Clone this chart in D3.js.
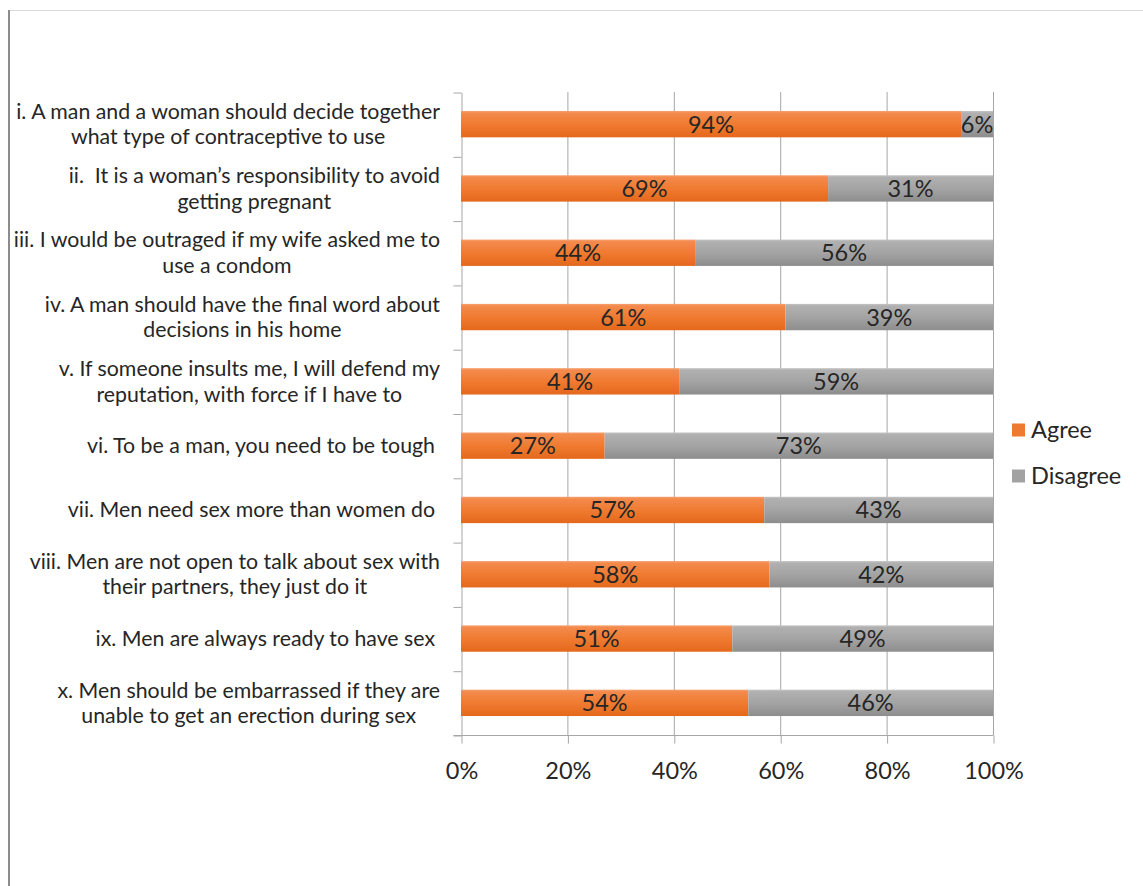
<!DOCTYPE html>
<html>
<head>
<meta charset="utf-8">
<script src="https://cdn.jsdelivr.net/npm/d3@7"></script>
<style>
  body { margin: 0; background: #fff; }
  text { font-family: Lato, "Open Sans", sans-serif; fill: #262626; }
</style>
</head>
<body>
<svg id="chart" width="1143" height="886"></svg>
<script>
// category labels, already split the way the picture wraps them
const labels = [
  ["i. A man and a woman should decide together", "what type of contraceptive to use"],
  ["ii.  It is a woman\u2019s responsibility to avoid", "getting pregnant"],
  ["iii. I would be outraged if my wife asked me to", "use a condom"],
  ["iv. A man should have the final word about", "decisions in his home"],
  ["v. If someone insults me, I will defend my", "reputation, with force if I have to"],
  ["vi. To be a man, you need to be tough"],
  ["vii. Men need sex more than women do"],
  ["viii. Men are not open to talk about sex with", "their partners, they just do it"],
  ["ix. Men are always ready to have sex"],
  ["x. Men should be embarrassed if they are", "unable to get an erection during sex"]
];
const agree    = [0.94, 0.69, 0.44, 0.61, 0.41, 0.27, 0.57, 0.58, 0.51, 0.54];
const disagree = [0.06, 0.31, 0.56, 0.39, 0.59, 0.73, 0.43, 0.42, 0.49, 0.46];
const seriesNames = ["Agree", "Disagree"];
const xTicks = [0, 0.2, 0.4, 0.6, 0.8, 1];

const svg = d3.select("#chart");
const fmt = d3.format(".0%");

// gradients, excel style
const defs = svg.append("defs");
function grad(id, stops) {
  let g = defs.append("linearGradient").attr("id", id)
    .attr("x1", 0).attr("y1", 0).attr("x2", 0).attr("y2", 1);
  stops.forEach(s => g.append("stop").attr("offset", s[0]).attr("stop-color", s[1]));
}
grad("gOrange", [[0, "#f6a271"], [0.08, "#f38a4c"], [0.5, "#f07b31"], [1, "#e4681c"]]);
grad("gGray", [[0, "#c4c4c4"], [0.08, "#b0b0b0"], [0.5, "#a4a4a4"], [1, "#8d8d8d"]]);
const fills = ["url(#gOrange)", "url(#gGray)"];
const legendFills = ["#ee7a2f", "#a2a2a2"];

// frame
svg.append("line").attr("x1", 9).attr("x2", 1143).attr("y1", 10.5).attr("y2", 10.5)
  .attr("stroke", "#d9d9d9");
svg.append("line").attr("x1", 9).attr("x2", 9).attr("y1", 10).attr("y2", 886)
  .attr("stroke", "#8c8c8c").attr("stroke-width", 2);

const x = d3.scaleLinear().domain([0, 1]).range([461, 993]);
const y = d3.scaleBand().domain(d3.range(labels.length)).range([92, 735])
  .paddingInner(0.59).paddingOuter(0.295);
const yEdge = d3.scaleLinear().domain([0, labels.length]).range([92, 735]);

// grid
svg.append("g").selectAll("line").data(xTicks.slice(1)).join("line")
  .attr("x1", d => x(d) + 0.5).attr("x2", d => x(d) + 0.5)
  .attr("y1", 92).attr("y2", 735)
  .attr("stroke", "#a6a6a6");

// axes
const xAxis = svg.append("g").attr("transform", "translate(0.5,735.5)")
  .call(d3.axisBottom(x).tickValues(xTicks).tickFormat(fmt).tickSize(8).tickSizeOuter(0));
xAxis.select(".domain").attr("d", "M" + (x(0) - 8) + ",0H" + x(1)).attr("stroke", "#a6a6a6");
xAxis.selectAll(".tick line").attr("stroke", "#a6a6a6");
xAxis.selectAll(".tick text").attr("y", 27).attr("font-size", 23.5)
  .attr("font-family", "Lato").attr("fill", "#262626");

const yAxis = svg.append("g").attr("transform", "translate(461.5,0.5)")
  .call(d3.axisLeft(yEdge).tickValues(d3.range(labels.length + 1)).tickFormat("").tickSize(8).tickSizeOuter(0));
yAxis.select(".domain").attr("stroke", "#a6a6a6");
yAxis.selectAll(".tick line").attr("stroke", "#a6a6a6");

// stacked bars
const rows = labels.map((l, i) => {
  return [
    { s: 0, x0: 0, x1: agree[i], v: agree[i], i: i },
    { s: 1, x0: agree[i], x1: agree[i] + disagree[i], v: disagree[i], i: i }
  ];
});
const segs = rows.flat();

svg.append("g").selectAll("rect").data(segs).join("rect")
  .attr("x", d => x(d.x0)).attr("width", d => x(d.x1) - x(d.x0))
  .attr("y", d => y(d.i)).attr("height", y.bandwidth())
  .attr("fill", d => fills[d.s]);

svg.append("g").selectAll("text").data(segs).join("text")
  .attr("x", d => x((d.x0 + d.x1) / 2)).attr("y", d => y(d.i) + y.bandwidth() / 2)
  .attr("dy", "0.36em").attr("text-anchor", "middle").attr("font-size", 23.5)
  .text(d => fmt(d.v));

// category labels: block right-aligned at 440, lines centred inside the block
const lineH = 25.5;
labels.forEach((lines, i) => {
  let g = svg.append("g");
  let cy = y(i) + y.bandwidth() / 2;
  let ts = lines.map((t, k) => g.append("text")
    .attr("font-size", 21.3).attr("text-anchor", "middle")
    .attr("y", cy + (k - (lines.length - 1) / 2) * lineH).attr("dy", "0.35em")
    .style("white-space", "pre")
    .text(t));
  let w = d3.max(ts, t => t.node().getComputedTextLength());
  let right = lines.length === 1 ? 435 : 440;
  ts.forEach(t => t.attr("x", right - w / 2));
});

// legend
const legend = svg.append("g").selectAll("g").data(seriesNames).join("g")
  .attr("transform", (d, i) => "translate(1012," + (430 + i * 46) + ")");
legend.append("rect").attr("x", 0).attr("y", -6.5).attr("width", 13).attr("height", 13)
  .attr("fill", (d, i) => legendFills[i]);
legend.append("text").attr("x", 19).attr("dy", "0.35em").attr("font-size", 23.5).text(d => d);
</script>
</body>
</html>
